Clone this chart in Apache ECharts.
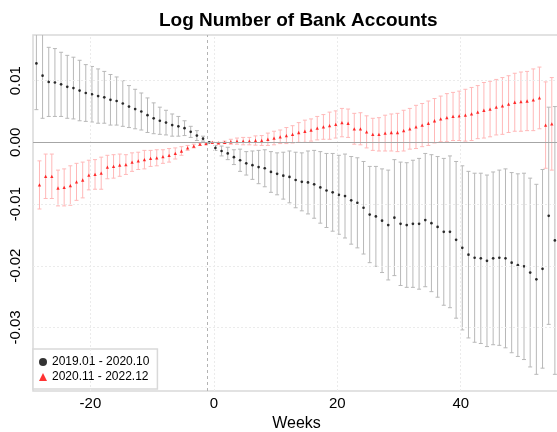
<!DOCTYPE html>
<html>
<head>
<meta charset="utf-8">
<script src="https://cdn.jsdelivr.net/npm/echarts@6/dist/echarts.min.js"></script>
<style>
  html, body { margin: 0; padding: 0; background: #fff; }
  #chart { width: 557px; height: 432px; }
</style>
</head>
<body>
<div id="chart"></div>
<script>
// Event-study estimates of log bank accounts, by cohort, with confidence intervals.
const blackName = '2019.01 - 2020.10';
const redName = '2020.11 - 2022.12';

// Cohort 2019.01 - 2020.10: weeks -29 .. 55
const blackStartWeek = -29;
const blackEst = [
  0.0128, 0.0108, 0.0098, 0.0097, 0.0094, 0.0090, 0.0088, 0.0084, 0.0080, 0.0078,
  0.0075, 0.0073, 0.0069, 0.0067, 0.0063, 0.0058, 0.0054, 0.0050, 0.0044, 0.0039,
  0.0035, 0.0032, 0.0028, 0.0026, 0.0023, 0.0017, 0.0011, 0.0006, 0.0000,
  -0.0009, -0.0014, -0.0018, -0.0024, -0.0029, -0.0034, -0.0037, -0.0040, -0.0042, -0.0048,
  -0.0051, -0.0054, -0.0056, -0.0061, -0.0064, -0.0065, -0.0068, -0.0073, -0.0078, -0.0081,
  -0.0085, -0.0087, -0.0094, -0.0098, -0.0106, -0.0117, -0.0120, -0.0127, -0.0134, -0.0122,
  -0.0132, -0.0134, -0.0132, -0.0132, -0.0126, -0.0131, -0.0137, -0.0145, -0.0145, -0.0158,
  -0.0171, -0.0182, -0.0187, -0.0188, -0.0192, -0.0188, -0.0187, -0.0188, -0.0195, -0.0199,
  -0.0201, -0.0211, -0.0222, -0.0205, -0.0119, -0.0159
];
const blackHalfCI = [
  0.0075, 0.0069, 0.0056, 0.0055, 0.0052, 0.0051, 0.0050, 0.0049, 0.0046, 0.0045,
  0.0044, 0.0042, 0.0041, 0.0039, 0.0037, 0.0034, 0.0032, 0.0030, 0.0028, 0.0025,
  0.0022, 0.0020, 0.0018, 0.0016, 0.0012, 0.0009, 0.0008, 0.0004, 0.0000,
  0.0004, 0.0008, 0.0010, 0.0012, 0.0018, 0.0019, 0.0023, 0.0027, 0.0030, 0.0033,
  0.0034, 0.0038, 0.0042, 0.0045, 0.0047, 0.0051, 0.0055, 0.0058, 0.0060, 0.0063,
  0.0064, 0.0068, 0.0071, 0.0073, 0.0075, 0.0078, 0.0081, 0.0084, 0.0089, 0.0094,
  0.0100, 0.0101, 0.0103, 0.0106, 0.0108, 0.0111, 0.0114, 0.0119, 0.0123, 0.0127,
  0.0133, 0.0135, 0.0137, 0.0138, 0.0139, 0.0140, 0.0142, 0.0145, 0.0146, 0.0148,
  0.0151, 0.0153, 0.0154, 0.0161, 0.0176, 0.0217
];

// Cohort 2020.11 - 2022.12: weeks -28 .. 55
const redStartWeek = -28;
const redEst = [
  -0.0069, -0.0055, -0.0055, -0.0074, -0.0073, -0.0070, -0.0064, -0.0061, -0.0053, -0.0052,
  -0.0050, -0.0040, -0.0039, -0.0037, -0.0036, -0.0032, -0.0030, -0.0028, -0.0026, -0.0025,
  -0.0023, -0.0021, -0.0018, -0.0014, -0.0009, -0.0006, -0.0003, -0.0002, 0.0000,
  -0.0001, 0.0000, 0.0001, 0.0002, 0.0002, 0.0002, 0.0003, 0.0003, 0.0005, 0.0007,
  0.0009, 0.0011, 0.0013, 0.0016, 0.0018, 0.0020, 0.0023, 0.0025, 0.0027, 0.0029,
  0.0032, 0.0031, 0.0022, 0.0022, 0.0017, 0.0013, 0.0013, 0.0015, 0.0016, 0.0016,
  0.0019, 0.0022, 0.0025, 0.0028, 0.0031, 0.0035, 0.0038, 0.0040, 0.0042, 0.0043,
  0.0044, 0.0046, 0.0049, 0.0052, 0.0054, 0.0057, 0.0059, 0.0062, 0.0065, 0.0066,
  0.0067, 0.0069, 0.0072, 0.0028, 0.0030
];
const redHalfCI = [
  0.0039, 0.0036, 0.0036, 0.0029, 0.0030, 0.0032, 0.0030, 0.0029, 0.0024, 0.0024,
  0.0026, 0.0019, 0.0019, 0.0018, 0.0016, 0.0015, 0.0014, 0.0015, 0.0013, 0.0013,
  0.0011, 0.0011, 0.0009, 0.0007, 0.0004, 0.0003, 0.0002, 0.0001, 0.0000,
  0.0001, 0.0002, 0.0004, 0.0005, 0.0006, 0.0006, 0.00075, 0.0008, 0.0010, 0.0011,
  0.0011, 0.0013, 0.0014, 0.0016, 0.0018, 0.0018, 0.0019, 0.0020, 0.0022, 0.0022,
  0.0023, 0.0023, 0.0025, 0.0026, 0.0026, 0.0026, 0.0027, 0.0029, 0.0030, 0.0031,
  0.0033, 0.0033, 0.0035, 0.0035, 0.0036, 0.0036, 0.0037, 0.0039, 0.0039, 0.0040,
  0.0042, 0.0043, 0.0043, 0.0045, 0.0045, 0.0045, 0.0046, 0.0046, 0.0047, 0.0048,
  0.0048, 0.0050, 0.0050, 0.0070, 0.0075
];

const xTicks = [-20, 0, 20, 40];
const yTicks = [-0.03, -0.02, -0.01, 0.00, 0.01];
const eventWeek = -1;

// Side-by-side dodge so the two cohorts' bars do not overlap.
const dodge = 0.25;

function pointsOf(start, est, shift) {
  return est.map((v, i) => [start + i + shift, v]);
}
function barsOf(start, est, half, shift) {
  return est.map((v, i) => [start + i + shift, v - half[i], v + half[i]]);
}

function errorBar(color) {
  return function (params, api) {
    const x = api.value(0);
    const lo = api.coord([x, api.value(1)]);
    const hi = api.coord([x, api.value(2)]);
    const cap = 2;
    const style = { stroke: color, lineWidth: 1 };
    return {
      type: 'group',
      children: [
        { type: 'line', shape: { x1: lo[0], y1: lo[1], x2: hi[0], y2: hi[1] }, style },
        { type: 'line', shape: { x1: lo[0] - cap, y1: lo[1], x2: lo[0] + cap, y2: lo[1] }, style },
        { type: 'line', shape: { x1: hi[0] - cap, y1: hi[1], x2: hi[0] + cap, y2: hi[1] }, style }
      ]
    };
  };
}

const font = 'Liberation Sans, Arial, sans-serif';
const gridLine = { color: '#ebebeb', type: [2, 2], width: 1 };

const chart = echarts.init(document.getElementById('chart'), null, { renderer: 'canvas' });
chart.setOption({
  animation: false,
  backgroundColor: '#fff',
  title: {
    text: 'Log Number of Bank Accounts',
    left: 154,
    top: 6,
    textStyle: { fontFamily: font, fontSize: 19, fontWeight: 'bold', color: '#000' }
  },
  grid: {
    left: 33, right: -3, top: 35, bottom: 41,
    outerBoundsMode: 'none',
    containLabel: false,
    show: true, borderColor: '#d9d9d9', borderWidth: 1.5, backgroundColor: 'transparent'
  },
  legend: {
    orient: 'vertical',
    left: 33, top: 349,
    padding: [7, 8, 6, 6],
    itemGap: 3,
    itemWidth: 8, itemHeight: 8,
    backgroundColor: '#fff',
    borderColor: '#d9d9d9', borderWidth: 1.5,
    textStyle: { fontFamily: font, fontSize: 12, color: '#000' },
    data: [
      { name: blackName, icon: 'circle' },
      { name: redName, icon: 'triangle' }
    ]
  },
  xAxis: {
    type: 'value',
    min: -29.3, max: 56.08,
    name: 'Weeks',
    nameLocation: 'middle',
    nameGap: 21,
    nameTextStyle: { fontFamily: font, fontSize: 16, color: '#000' },
    axisLine: { show: false },
    axisTick: { show: false },
    splitLine: { show: false },
    axisLabel: {
      customValues: xTicks,
      fontFamily: font, fontSize: 15, color: '#000', margin: 5,
      formatter: v => String(v)
    }
  },
  yAxis: {
    type: 'value',
    min: -0.0403, max: 0.0174,
    axisLine: { show: false },
    axisTick: { show: false },
    splitLine: { show: false },
    axisLabel: {
      customValues: yTicks,
      rotate: 90,
      fontFamily: font, fontSize: 15, color: '#000', margin: 10,
      formatter: v => v.toFixed(2)
    }
  },
  series: [
    {
      // reference lines: tick grid, zero line and the event week
      type: 'line',
      data: [],
      silent: true,
      markLine: {
        silent: true,
        symbol: 'none',
        label: { show: false },
        animation: false,
        data: [
          ...xTicks.map(t => ({ xAxis: t, lineStyle: gridLine })),
          ...yTicks.map(t => ({ yAxis: t, lineStyle: gridLine })),
          { yAxis: 0, lineStyle: { color: '#a6a6a6', type: 'solid', width: 1 } },
          { xAxis: eventWeek, lineStyle: { color: '#b3b3b3', type: [3, 3], width: 1 } }
        ]
      }
    },
    {
      type: 'custom',
      name: blackName + ' CI',
      clip: true,
      silent: true,
      renderItem: errorBar('#b8b8b8'),
      encode: { x: 0, y: [1, 2] },
      data: barsOf(blackStartWeek, blackEst, blackHalfCI, dodge),
      z: 2
    },
    {
      type: 'custom',
      name: redName + ' CI',
      clip: true,
      silent: true,
      renderItem: errorBar('#ffb8b8'),
      encode: { x: 0, y: [1, 2] },
      data: barsOf(redStartWeek, redEst, redHalfCI, -dodge),
      z: 2
    },
    {
      type: 'scatter',
      name: blackName,
      symbol: 'circle',
      symbolSize: 2.7,
      itemStyle: { color: '#000' },
      data: pointsOf(blackStartWeek, blackEst, dodge),
      z: 3
    },
    {
      type: 'scatter',
      name: redName,
      symbol: 'triangle',
      symbolSize: 3.3,
      itemStyle: { color: '#ff0000' },
      data: pointsOf(redStartWeek, redEst, -dodge),
      z: 3
    }
  ]
});
</script>
</body>
</html>
